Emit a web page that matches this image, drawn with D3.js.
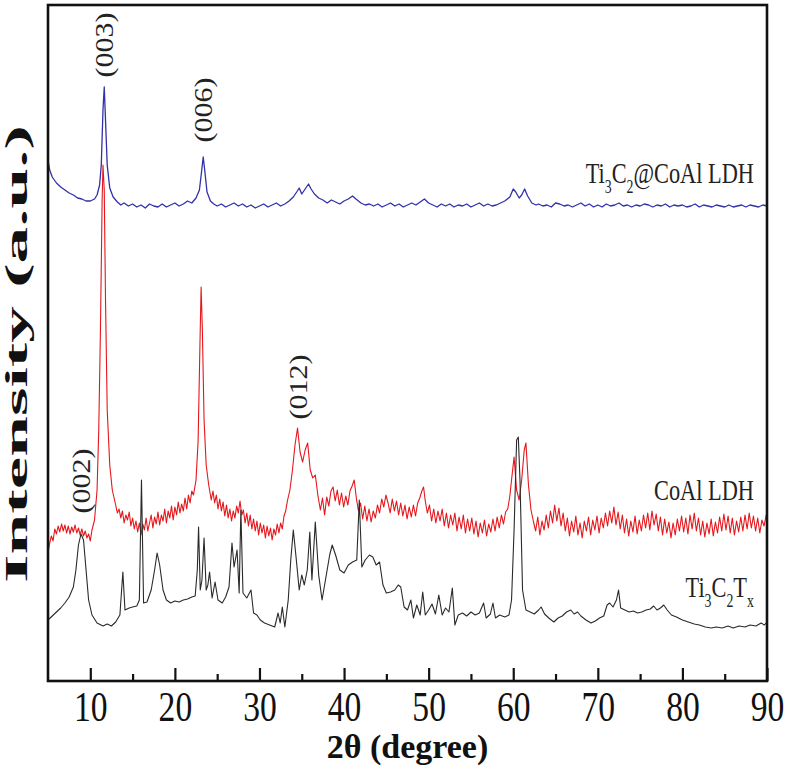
<!DOCTYPE html>
<html>
<head>
<meta charset="utf-8">
<script src="https://cdn.jsdelivr.net/npm/d3@7"></script>
<style>
body { margin: 0; background: #fff; }
svg { display: block; }
</style>
</head>
<body>
<svg id="chart" width="787" height="784"></svg>
<script>
// XRD patterns, stacked with an offset (intensity in a.u.)
var ti3c2CoAlLdh = [[5,521],[5.2,511],[5.5,504],[6,498],[6.5,494],[7,491],[7.5,488],[8,486],[8.5,483],[9,482],[9.5,480],[10,480],[10.5,482],[10.8,486],[11.1,496],[11.3,516],[11.5,571],[11.65,594],[11.8,561],[12,516],[12.3,493],[12.7,484],[13.2,479],[13.6,476],[14,478],[14.5,475],[15,477],[15.5,474],[16,476],[16.5,473],[17,477],[17.5,475],[18,474],[18.5,477],[19,474],[19.5,476],[20,478],[20.5,475],[21,477],[21.5,480],[22,478],[22.5,483],[22.9,491],[23.15,509],[23.35,524],[23.55,509],[23.8,489],[24.2,480],[24.6,477],[25,475],[25.5,477],[26,474],[26.5,476],[27,478],[27.5,475],[28,477],[28.5,474],[29,476],[29.5,473],[30,475],[30.5,477],[31,474],[31.5,476],[32,478],[32.5,475],[33,477],[33.5,480],[34,484],[34.4,489],[34.7,493],[35,487],[35.4,492],[35.8,497],[36.1,492],[36.5,487],[37,483],[37.5,481],[38,478],[38.5,481],[39,479],[39.5,477],[40,480],[40.5,482],[41,485],[41.4,482],[42,478],[42.5,476],[43,477],[43.5,475],[44,477],[44.5,474],[45,476],[45.5,478],[46,475],[46.5,477],[47,474],[47.5,476],[48,478],[48.5,476],[49,479],[49.5,482],[50,478],[50.5,476],[51,474],[51.5,477],[52,475],[52.5,477],[53,474],[53.5,476],[54,475],[54.5,477],[55,474],[55.5,476],[56,478],[56.5,475],[57,477],[57.5,475],[58,476],[58.5,478],[59,480],[59.6,484],[60,492],[60.3,489],[60.7,483],[61,486],[61.35,492],[61.7,485],[62.2,478],[62.7,476],[63,477],[63.5,475],[64,476],[64.5,474],[65,478],[65.5,477],[66,475],[66.5,476],[67,474],[67.5,476],[68,478],[68.5,475],[69,477],[69.5,474],[70,476],[70.5,474],[71,477],[71.5,475],[72,476],[72.5,478],[73,475],[73.5,476],[74,474],[74.5,476],[75,475],[75.5,477],[76,476],[76.5,474],[77,476],[77.5,475],[78,477],[78.5,474],[79,476],[79.5,475],[80,476],[80.5,474],[81,475],[81.5,477],[82,474],[82.5,476],[83,475],[83.5,474],[84,476],[84.5,475],[85,474],[85.5,476],[86,474],[86.5,475],[87,476],[87.5,474],[88,476],[88.5,475],[89,474],[89.5,476],[90,475]];

var coAlLdh = [[5,128],[5.2,138],[5.4,145],[5.6,140],[5.8,152],[6,147],[6.2,155],[6.4,149],[6.6,157],[6.8,150],[7,156],[7.2,148],[7.4,155],[7.6,147],[7.8,154],[8,149],[8.2,156],[8.4,148],[8.6,153],[8.8,146],[9,152],[9.2,145],[9.4,150],[9.6,143],[9.8,147],[10,140],[10.2,151],[10.5,161],[10.8,191],[11,251],[11.2,351],[11.4,481],[11.5,516],[11.65,491],[11.8,381],[12,271],[12.3,216],[12.6,191],
  [13,176],[13.2,168],[13.4,172],[13.6,163],[13.8,170],[14,158],[14.2,166],[14.4,161],[14.6,169],[14.8,155],[15,163],[15.2,152],[15.4,160],[15.6,149],[15.8,158],[16,146],[16.2,157],[16.4,151],[16.6,163],[16.8,150],[17,158],[17.2,166],[17.4,153],[17.6,164],[17.8,157],[18,169],[18.2,156],[18.4,166],[18.6,160],[18.8,172],[19,158],[19.2,170],[19.4,163],[19.6,175],[19.8,161],[20,174],[20.2,166],[20.4,179],[20.6,168],[20.8,177],[21,170],[21.2,183],[21.4,172],[21.6,186],[21.8,178],[22,190],[22.2,186],
  [22.5,201],[22.75,241],[22.95,331],[23.1,394],[23.25,351],[23.45,261],[23.7,216],[24,196],
  [24.3,181],[24.5,190],[24.7,178],[24.9,186],[25.1,172],[25.3,182],[25.5,170],[25.7,179],[25.9,165],[26.1,176],[26.3,163],[26.5,172],[26.7,160],[26.9,170],[27.1,163],[27.3,175],[27.5,168],[27.7,180],[27.9,166],[28.1,171],[28.3,158],[28.5,168],[28.7,155],[28.9,166],[29.1,152],[29.3,162],[29.5,150],[29.7,160],[29.9,146],[30.1,158],[30.3,148],[30.5,156],[30.7,143],[30.9,155],[31.1,145],[31.3,153],[31.5,141],[31.7,152],[31.9,146],[32.1,157],[32.3,148],[32.5,158],[32.7,152],[32.9,165],[33.1,170],[33.3,180],
  [33.6,191],[33.9,211],[34.2,236],[34.5,253],[34.8,229],[35.1,219],[35.4,231],[35.7,238],[36,211],[36.3,203],[36.6,206],[36.9,186],
  [37.2,171],[37.45,183],[37.7,166],[37.95,184],[38.2,175],[38.45,190],[38.7,194],[38.95,180],[39.2,191],[39.45,176],[39.7,188],[39.95,174],[40.2,185],[40.45,176],[40.7,190],[40.95,195],[41.2,201],[41.45,183],[41.7,170],[41.95,178],[42.2,162],[42.45,175],[42.7,160],[42.95,172],[43.2,159],[43.45,170],[43.7,163],[43.95,176],[44.2,168],[44.45,182],[44.7,174],[44.95,186],[45.2,178],[45.45,168],[45.7,182],[45.95,170],[46.2,180],[46.45,166],[46.7,178],[46.95,165],[47.2,176],[47.45,162],[47.7,174],[47.95,164],[48.2,176],[48.45,165],[48.7,178],[48.95,183],[49.2,190],[49.4,194],[49.6,180],[49.85,168],[50.1,176],[50.35,160],[50.6,172],[50.85,158],[51.1,170],[51.35,160],[51.6,172],[51.85,155],[52.1,168],[52.35,153],[52.6,166],[52.85,156],[53.1,168],[53.35,150],[53.6,164],[53.85,152],[54.1,166],[54.35,148],[54.6,162],[54.85,150],[55.1,163],[55.35,147],[55.6,160],[55.85,144],[56.1,158],[56.35,148],[56.6,161],[56.85,145],[57.1,157],[57.35,149],[57.6,162],[57.85,150],[58.1,164],[58.35,153],[58.6,166],[58.85,157],[59.1,169],[59.35,172],[59.6,185],
  [59.8,201],[60.1,224],[60.4,191],[60.7,181],[61,201],[61.3,231],[61.5,238],[61.8,196],[62.1,171],
  [62.4,159],[62.65,150],[62.9,164],[63.15,146],[63.4,160],[63.65,151],[63.9,166],[64.15,153],[64.4,170],[64.65,158],[64.9,176],[65.15,160],[65.4,173],[65.65,155],[65.9,168],[66.15,150],[66.4,163],[66.65,145],[66.9,160],[67.15,149],[67.4,165],[67.65,146],[67.9,158],[68.15,143],[68.4,160],[68.65,150],[68.9,164],[69.15,146],[69.4,161],[69.65,151],[69.9,165],[70.15,148],[70.4,163],[70.65,153],[70.9,168],[71.15,155],[71.4,170],[71.65,158],[71.9,174],[72.15,156],[72.4,169],[72.65,152],[72.9,166],[73.15,148],[73.4,162],[73.65,145],[73.9,160],[74.15,149],[74.4,165],[74.65,147],[74.9,161],[75.15,150],[75.4,166],[75.65,153],[75.9,168],[76.15,151],[76.4,170],[76.65,156],[76.9,167],[77.15,150],[77.4,164],[77.65,146],[77.9,162],[78.15,148],[78.4,159],[78.65,143],[78.9,158],[79.15,146],[79.4,162],[79.65,150],[79.9,165],[80.15,149],[80.4,163],[80.65,147],[80.9,166],[81.15,152],[81.4,168],[81.65,150],[81.9,163],[82.15,146],[82.4,160],[82.65,144],[82.9,158],[83.15,147],[83.4,162],[83.65,145],[83.9,159],[84.15,148],[84.4,164],[84.65,150],[84.9,167],[85.15,151],[85.4,165],[85.65,148],[85.9,163],[86.15,146],[86.4,160],[86.65,149],[86.9,164],[87.15,150],[87.4,166],[87.65,152],[87.9,168],[88.15,153],[88.4,165],[88.65,150],[88.9,163],[89.15,148],[89.4,161],[89.65,155],[89.9,166],[90,160]];

var ti3c2Tx = [[5,61],[5.5,65],[6,69],[6.5,73],[7,78],[7.5,84],[8,94],[8.3,111],[8.6,136],[8.9,147],[9.2,141],[9.5,111],[9.8,81],[10.2,66],[10.8,58],[11.5,55],[12,57],[12.5,55],[13,59],[13.5,66],[13.85,109],[14.1,71],[14.6,73],[15,74],[15.5,75],[15.8,81],[16.05,201],[16.3,78],[16.7,79],[17.2,91],[17.6,111],[17.9,128],[18.2,116],[18.6,91],[19,81],[19.5,78],[20,80],[20.5,79],[21,81],[21.5,82],[22,84],[22.4,85],[22.65,111],[22.8,154],[23,91],[23.2,101],[23.45,143],[23.7,91],[23.9,96],[24.1,109],[24.4,83],[24.75,99],[25.1,81],[25.6,78],[26,84],[26.4,94],[26.75,138],[27,114],[27.35,131],[27.6,88],[27.8,171],[28.05,88],[28.5,83],[29,91],[29.3,68],[29.7,66],[30.1,61],[30.6,58],[31.2,56],[31.8,54],[32.2,68],[32.45,58],[32.7,74],[33,54],[33.4,81],[33.7,121],[34,151],[34.3,126],[34.7,91],[35,106],[35.3,96],[35.65,111],[35.95,149],[36.2,101],[36.6,159],[37,106],[37.4,81],[37.8,101],[38.3,126],[38.6,136],[39,126],[39.5,111],[40,108],[40.5,116],[41,119],[41.5,121],[41.8,181],[42.1,114],[42.5,121],[43,126],[43.4,124],[43.8,116],[44.2,119],[44.6,96],[45,88],[45.5,89],[46,91],[46.4,96],[46.7,94],[47.1,74],[47.5,71],[47.9,81],[48.2,63],[48.6,76],[49,66],[49.3,89],[49.6,66],[50,71],[50.4,77],[50.8,67],[51.2,86],[51.6,66],[52,73],[52.4,69],[52.8,93],[53.1,56],[53.5,66],[54,68],[54.5,65],[55,69],[55.5,66],[56,68],[56.5,78],[56.8,63],[57.3,67],[57.6,78],[57.9,63],[58.4,66],[59,64],[59.5,66],[59.8,81],[60.1,151],[60.4,241],[60.6,244],[60.8,201],[61.1,91],[61.5,71],[62,69],[62.5,67],[63,71],[63.3,74],[63.7,67],[64.2,63],[64.8,59],[65.3,63],[65.8,65],[66.3,69],[66.8,71],[67.2,67],[67.6,69],[68,65],[68.6,61],[69.2,58],[69.7,60],[70.2,63],[70.7,65],[71.1,76],[71.4,78],[71.8,74],[72.2,81],[72.45,91],[72.7,73],[73.2,71],[73.7,69],[74.2,70],[74.7,68],[75.2,69],[75.7,71],[76.2,72],[76.6,75],[77,71],[77.4,73],[77.8,76],[78.2,71],[78.7,66],[79.3,64],[80,61],[80.7,59],[81.4,57],[82,56],[82.7,54],[83.4,53],[84,54],[84.7,53],[85.4,55],[86,53],[86.7,55],[87.4,54],[88,56],[88.7,55],[89.3,58],[89.7,56],[90,59]];

var seriesNames = ["Ti_3C_2@CoAl LDH", "CoAl LDH", "Ti_3C_2T_x"];
var seriesColors = ["#3131a9", "#e5171c", "#2a2a2a"];
var seriesWidths = [1.3, 1.1, 1.1];
var nameLevels = [498, 181, 84];

var majorTicks = [10, 20, 30, 40, 50, 60, 70, 80, 90];
var minorTicks = [15, 25, 35, 45, 55, 65, 75, 85];

var peakLabels = ["(003)", "(006)", "(012)", "(002)"];
var peakTheta = [11.65, 23.35, 34.6, 9.0];
var peakLevel = [636, 571, 294, 200];

var fontFamily = "'Liberation Serif', 'Times New Roman', serif";
var plotLeft = 48, plotRight = 767, plotTop = 5, plotBottom = 681;

var svg = d3.select("#chart");

var x = d3.scaleLinear().domain([5, 90]).range([plotLeft, plotRight]);
var y = d3.scaleLinear().domain([0, 676]).range([plotBottom, plotTop]);

var line = d3.line()
    .x(function(d){ return x(d[0]); })
    .y(function(d){ return y(d[1]); });

function drawTraces() {
    // red first, black over it, blue on top
    var traces = [coAlLdh, ti3c2Tx, ti3c2CoAlLdh];
    var order = [1, 2, 0];
    traces.forEach(function(trace, i){
        svg.append("path")
            .datum(trace)
            .attr("d", line)
            .attr("fill", "none")
            .attr("stroke", seriesColors[order[i]])
            .attr("stroke-width", seriesWidths[order[i]])
            .attr("stroke-linejoin", "round");
    });
}

function drawAxes() {
    var major = svg.append("g")
        .attr("transform", "translate(0," + plotBottom + ")")
        .call(d3.axisBottom(x).tickValues(majorTicks).tickSize(-13).tickFormat(d3.format("d")));
    major.select(".domain").remove();
    major.selectAll("line").attr("stroke", "#111").attr("stroke-width", 2.2);
    major.selectAll("text")
        .attr("y", 0)
        .attr("dy", 0)
        .attr("transform", "translate(0,40) scale(0.8,1)")
        .attr("font-family", fontFamily)
        .attr("font-size", 42)
        .attr("fill", "#111");

    var minor = svg.append("g")
        .attr("transform", "translate(0," + plotBottom + ")")
        .call(d3.axisBottom(x).tickValues(minorTicks).tickSize(-7).tickFormat(""));
    minor.select(".domain").remove();
    minor.selectAll("line").attr("stroke", "#111").attr("stroke-width", 2.2);

    // frame
    svg.append("rect")
        .attr("x", plotLeft)
        .attr("y", plotTop)
        .attr("width", plotRight - plotLeft)
        .attr("height", plotBottom - plotTop)
        .attr("fill", "none")
        .attr("stroke", "#111")
        .attr("stroke-width", 2.6);

    svg.append("text")
        .text("2\u03b8 (degree)")
        .attr("x", (plotLeft + plotRight) / 2)
        .attr("y", 758)
        .attr("text-anchor", "middle")
        .attr("font-family", fontFamily)
        .attr("font-weight", "bold")
        .attr("font-size", 34)
        .attr("fill", "#111");

    svg.append("text")
        .text("Intensity (a.u.)")
        .attr("transform", "translate(27,354) rotate(-90)")
        .attr("text-anchor", "middle")
        .attr("textLength", 458)
        .attr("lengthAdjust", "spacingAndGlyphs")
        .attr("font-family", fontFamily)
        .attr("font-weight", "bold")
        .attr("font-size", 31)
        .attr("fill", "#111");
}

function appendLabel(parent, label, size) {
    // "_" marks the next character as a subscript
    var parts = label.split("_");
    parent.append("tspan").text(parts[0]);
    for (var i = 1; i < parts.length; i++) {
        parent.append("tspan")
            .text(parts[i].charAt(0))
            .attr("font-size", size * 0.62)
            .attr("dy", size * 0.36);
        parent.append("tspan")
            .text(parts[i].slice(1))
            .attr("dy", -size * 0.36);
    }
}

function drawSeriesNames() {
    var endX = x(88.45);
    seriesNames.forEach(function(name, i){
        var t = svg.append("text")
            .attr("transform", "translate(" + endX + "," + y(nameLevels[i]) + ") scale(0.77,1)")
            .attr("text-anchor", "end")
            .attr("font-family", fontFamily)
            .attr("font-size", 29)
            .attr("fill", "#222");
        appendLabel(t, name, 29);
    });
}

function drawPeakLabels() {
    peakLabels.forEach(function(label, i){
        svg.append("text")
            .text(label)
            .attr("transform", "translate(" + x(peakTheta[i]) + "," + y(peakLevel[i]) + ") scale(1,1.2) rotate(-90)")
            .attr("text-anchor", "middle")
            .attr("dominant-baseline", "central")
            .attr("font-family", fontFamily)
            .attr("font-size", 25)
            .attr("fill", "#222");
    });
}

drawTraces();
drawAxes();
drawSeriesNames();
drawPeakLabels();
</script>
</body>
</html>
